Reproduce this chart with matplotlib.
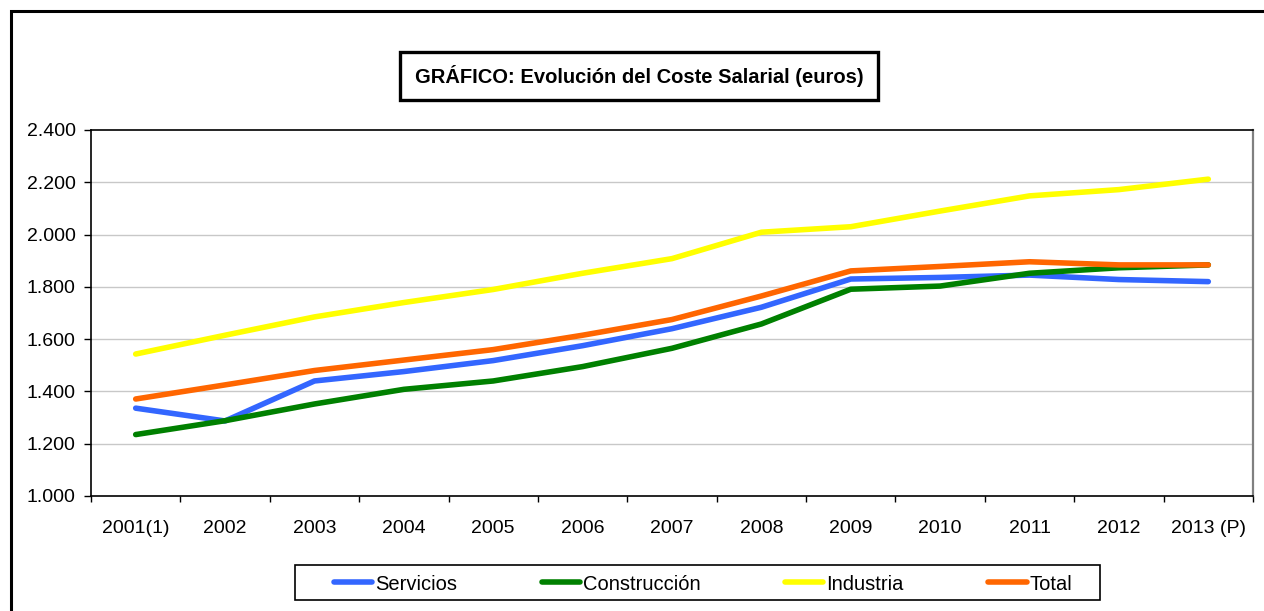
import matplotlib
matplotlib.use("Agg")
import matplotlib.pyplot as plt
from matplotlib.patches import Rectangle
import numpy as np

categories = ["2001(1)", "2002", "2003", "2004", "2005", "2006", "2007",
              "2008", "2009", "2010", "2011", "2012", "2013 (P)"]
servicios = [1336, 1287, 1440, 1476, 1518, 1575, 1640, 1722, 1830, 1836, 1845, 1828, 1820]
construccion = [1235, 1288, 1352, 1408, 1440, 1495, 1565, 1658, 1791, 1803, 1852, 1873, 1884]
industria = [1543, 1615, 1685, 1740, 1790, 1852, 1908, 2009, 2030, 2090, 2148, 2172, 2212]
total = [1371, 1425, 1480, 1520, 1560, 1615, 1675, 1765, 1861, 1878, 1896, 1884, 1884]
yticks = [1000, 1200, 1400, 1600, 1800, 2000, 2200, 2400]
ytick_labels = ["1.000", "1.200", "1.400", "1.600", "1.800", "2.000", "2.200", "2.400"]

plt.rcParams['font.family'] = ['Liberation Sans', 'DejaVu Sans']

W, H = 1264, 611
fig = plt.figure(figsize=(W / 100, H / 100), dpi=100)

# outer frame
fig.patches.append(Rectangle((11 / W, -0.05), 1.1, (611 - 11) / H + 0.05,
                             transform=fig.transFigure, fill=False,
                             edgecolor='black', linewidth=2.2))

ax = fig.add_axes([91 / W, (611 - 496) / H, (1253 - 91) / W, (496 - 130) / H])
x = np.arange(len(categories))
series = [(servicios, "#3366FF", "Servicios"),
          (construccion, "#008000", "Construcción"),
          (industria, "#FFFF00", "Industria"),
          (total, "#FF6600", "Total")]
handles = []
for vals, col, lab in series:
    h, = ax.plot(x, vals, color=col, linewidth=4.0, label=lab,
                 solid_capstyle='round', solid_joinstyle='round')
    handles.append(h)

ax.set_xlim(-0.5, len(categories) - 0.5)
ax.set_ylim(1000, 2400)
ax.set_yticks(yticks)
ax.set_yticklabels(ytick_labels, fontsize=14)
ax.set_xticks(x)
ax.set_xticklabels(categories, fontsize=14)
ax.set_xticks(np.arange(-0.5, len(categories)), minor=True)
ax.tick_params(axis='x', which='major', length=0, pad=17.5)
ax.tick_params(axis='x', which='minor', length=4, width=1, color='black')
ax.tick_params(axis='y', length=5, width=1, color='black', pad=6)
for yv in yticks[1:-1]:
    ax.axhline(yv, color='#C8C8C8', linewidth=1, zorder=0)
ax.spines['top'].set_color('black')
ax.spines['right'].set_color('#808080')
ax.spines['left'].set_color('black')
ax.spines['bottom'].set_color('black')
for s in ax.spines.values():
    s.set_linewidth(1.2)
ax.spines['right'].set_linewidth(1.6)

# title box
fig.patches.append(Rectangle((400 / W, 1 - 100 / H), 478 / W, 48 / H,
                             transform=fig.transFigure, facecolor='white',
                             edgecolor='black', linewidth=2.4))
fig.text(639 / W, 1 - 76 / H, "GRÁFICO: Evolución del Coste Salarial (euros)",
         ha='center', va='center', fontsize=14.5, fontweight='bold')

# legend box
fig.patches.append(Rectangle((295 / W, 1 - 600 / H), 805 / W, 35 / H,
                             transform=fig.transFigure, facecolor='white',
                             edgecolor='black', linewidth=1.2))
leg = fig.legend(handles=handles, loc='center', ncol=4,
                 bbox_to_anchor=(703 / W, 1 - 584 / H), fontsize=14.5,
                 frameon=False,
                 handlelength=1.9, handletextpad=0.15, columnspacing=4.2,
                 borderpad=0.3, borderaxespad=0)

fig.savefig("out.png", dpi=100)
